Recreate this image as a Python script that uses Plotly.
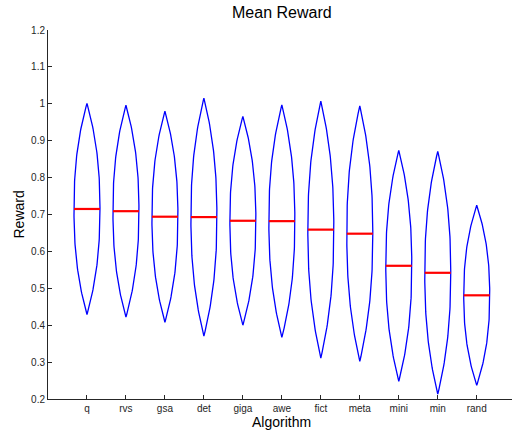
import numpy as np
import plotly.graph_objects as go

# Algorithms and their mean reward with the spread of each lens
algorithms = ["q", "rvs", "gsa", "det", "giga", "awe", "fict", "meta", "mini", "min", "rand"]
mean_reward = [0.715, 0.709, 0.694, 0.693, 0.683, 0.682, 0.659, 0.648, 0.561, 0.542, 0.481]
spread = [0.286, 0.287, 0.286, 0.3225, 0.283, 0.315, 0.348, 0.346, 0.313, 0.329, 0.244]
y_ticks = [0.2, 0.3, 0.4, 0.5, 0.6, 0.7, 0.8, 0.9, 1.0, 1.1, 1.2]
y_tick_text = ["0.2", "0.3", "0.4", "0.5", "0.6", "0.7", "0.8", "0.9", "1", "1.1", "1.2"]

half_width = 1 / 3
FONT = "Liberation Sans, Arial, Helvetica, sans-serif"
TEXT = "#262626"

fig = go.Figure()

for i, (m, s) in enumerate(zip(mean_reward, spread), start=1):
    # lens outline: curved sides meeting at points above and below the mean
    t = np.linspace(-1, 1, 101)
    off = half_width * (1 - np.abs(t) ** 2.3)
    xs = np.concatenate([i - off, (i + off)[::-1]])
    ys = np.concatenate([m + s * t, (m + s * t)[::-1]])
    fig.add_trace(go.Scatter(x=xs, y=ys, mode="lines",
                             line=dict(color="#0000FF", width=1.3),
                             hoverinfo="skip", showlegend=False))
    # mean marker
    fig.add_trace(go.Scatter(x=[i - half_width, i + half_width], y=[m, m], mode="lines",
                             line=dict(color="#FF0000", width=2.2),
                             hoverinfo="skip", showlegend=False))

fig.update_layout(
    width=512, height=431,
    margin=dict(l=48, r=0, t=30, b=32),
    paper_bgcolor="white", plot_bgcolor="white",
    font=dict(family=FONT, color=TEXT),
    title=dict(text="Mean Reward", x=(48 + 6 / 11.905 * 464) / 512, xanchor="center",
               y=1 - 12 / 431, yanchor="middle", yref="container",
               font=dict(size=16, family=FONT, color="#000000")),
    xaxis=dict(range=[0, 11.905], tickvals=list(range(1, len(algorithms) + 1)),
               ticktext=algorithms, ticks="inside", ticklen=4, tickcolor=TEXT,
               showline=True, linecolor=TEXT, linewidth=1, showgrid=False,
               zeroline=False, tickfont=dict(size=10, color=TEXT)),
    yaxis=dict(range=[0.2, 1.2], tickvals=y_ticks, ticktext=y_tick_text,
               ticks="inside", ticklen=4, tickcolor=TEXT,
               showline=True, linecolor=TEXT, linewidth=1, showgrid=False,
               zeroline=False, tickfont=dict(size=10, color=TEXT)),
    annotations=[
        dict(text="Algorithm", xref="paper", yref="paper", x=6 / 11.905, y=-23 / 369,
             xanchor="center", yanchor="middle", showarrow=False,
             font=dict(size=14, color="#000000")),
        dict(text="Reward", xref="paper", yref="paper", x=0, xshift=-30, y=0.5,
             xanchor="center", yanchor="middle", textangle=-90, showarrow=False,
             font=dict(size=14, color="#000000")),
    ],
)

fig.write_html("out.html")
